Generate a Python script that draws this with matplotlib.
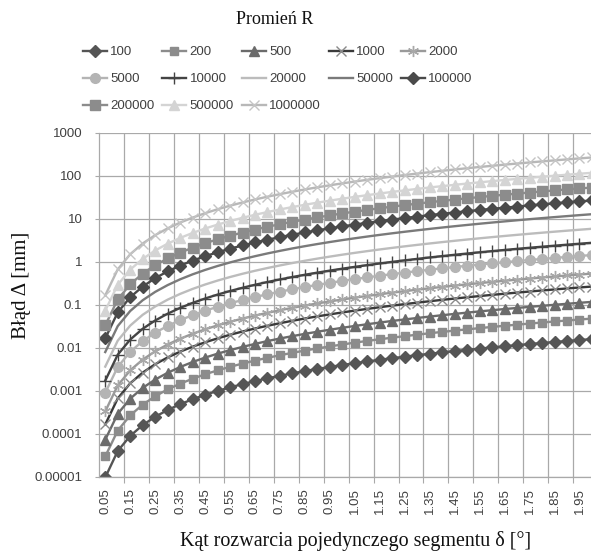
import matplotlib
matplotlib.use("Agg")
import matplotlib.pyplot as plt
from matplotlib.ticker import FixedLocator, NullLocator, FixedFormatter

# ---------------- data ----------------
delta = ["0.05", "0.10", "0.15", "0.20", "0.25", "0.30", "0.35", "0.40", "0.45", "0.50",
         "0.55", "0.60", "0.65", "0.70", "0.75", "0.80", "0.85", "0.90", "0.95", "1.00",
         "1.05", "1.10", "1.15", "1.20", "1.25", "1.30", "1.35", "1.40", "1.45", "1.50",
         "1.55", "1.60", "1.65", "1.70", "1.75", "1.80", "1.85", "1.90", "1.95", "2.00"]

radii = ["100", "200", "500", "1000", "2000", "5000", "10000", "20000", "50000",
         "100000", "200000", "500000", "1000000"]

r100 = [9.6e-6, 3.95e-5, 8.88e-5, 1.58e-4, 2.47e-4, 3.55e-4, 4.83e-4, 6.31e-4, 7.99e-4, 9.86e-4,
        1.19e-3, 1.42e-3, 1.67e-3, 1.93e-3, 2.22e-3, 2.52e-3, 2.85e-3, 3.20e-3, 3.56e-3, 3.95e-3,
        4.35e-3, 4.77e-3, 5.22e-3, 5.68e-3, 6.16e-3, 6.67e-3, 7.19e-3, 7.73e-3, 8.29e-3, 8.88e-3,
        9.48e-3, 0.0101, 0.0107, 0.0114, 0.0121, 0.0128, 0.0135, 0.0142, 0.0150, 0.0158]
r200 = [2.96e-5, 1.18e-4, 2.66e-4, 4.73e-4, 7.40e-4, 1.07e-3, 1.45e-3, 1.89e-3, 2.40e-3, 2.96e-3,
        3.58e-3, 4.26e-3, 5.00e-3, 5.80e-3, 6.66e-3, 7.57e-3, 8.55e-3, 9.59e-3, 0.0107, 0.0118,
        0.0131, 0.0143, 0.0157, 0.0170, 0.0185, 0.0200, 0.0216, 0.0232, 0.0249, 0.0266,
        0.0284, 0.0303, 0.0322, 0.0342, 0.0362, 0.0383, 0.0405, 0.0427, 0.0450, 0.0473]
r500 = [7.23e-5, 2.89e-4, 6.51e-4, 1.16e-3, 1.81e-3, 2.60e-3, 3.54e-3, 4.63e-3, 5.86e-3, 7.23e-3,
        8.75e-3, 0.0104, 0.0122, 0.0142, 0.0163, 0.0185, 0.0209, 0.0234, 0.0261, 0.0289,
        0.0319, 0.0350, 0.0383, 0.0417, 0.0452, 0.0489, 0.0527, 0.0567, 0.0608, 0.0651,
        0.0695, 0.0741, 0.0788, 0.0836, 0.0886, 0.0937, 0.0990, 0.1044, 0.1100, 0.1157]
r1000 = [1.64e-4, 6.58e-4, 1.48e-3, 2.63e-3, 4.11e-3, 5.92e-3, 8.05e-3, 0.0105, 0.0133, 0.0164,
         0.0199, 0.0237, 0.0278, 0.0322, 0.0370, 0.0421, 0.0475, 0.0533, 0.0593, 0.0658,
         0.0725, 0.0796, 0.0870, 0.0947, 0.1027, 0.1111, 0.1198, 0.1289, 0.1382, 0.1479,
         0.1580, 0.1683, 0.1790, 0.1900, 0.2014, 0.2130, 0.2250, 0.2373, 0.2500, 0.2630]
r2000 = [3.29e-4, 1.32e-3, 2.96e-3, 5.26e-3, 8.22e-3, 0.0118, 0.0161, 0.0210, 0.0266, 0.0329,
         0.0398, 0.0473, 0.0556, 0.0644, 0.0740, 0.0842, 0.0950, 0.1065, 0.1187, 0.1315,
         0.1450, 0.1591, 0.1739, 0.1894, 0.2055, 0.2222, 0.2397, 0.2578, 0.2765, 0.2959,
         0.3159, 0.3366, 0.3580, 0.3800, 0.4027, 0.4261, 0.4501, 0.4747, 0.5000, 0.5260]
r5000 = [8.88e-4, 3.55e-3, 7.99e-3, 0.0142, 0.0222, 0.0320, 0.0435, 0.0568, 0.0719, 0.0888,
         0.1074, 0.1278, 0.1500, 0.1740, 0.1997, 0.2272, 0.2565, 0.2876, 0.3204, 0.3551,
         0.3914, 0.4296, 0.4695, 0.5113, 0.5547, 0.5999, 0.6471, 0.6959, 0.7464, 0.7988,
         0.8529, 0.9088, 0.9666, 1.026, 1.087, 1.150, 1.215, 1.282, 1.350, 1.420]
r10000 = [1.71e-3, 6.84e-3, 0.0154, 0.0274, 0.0427, 0.0615, 0.0838, 0.1094, 0.1385, 0.1710,
          0.2068, 0.2461, 0.2889, 0.3351, 0.3845, 0.4376, 0.4940, 0.5538, 0.6170, 0.6838,
          0.7537, 0.8273, 0.9043, 0.9846, 1.068, 1.155, 1.246, 1.340, 1.438, 1.538,
          1.643, 1.750, 1.862, 1.976, 2.094, 2.216, 2.340, 2.468, 2.600, 2.735]
r20000 = [3.62e-3, 0.0145, 0.0325, 0.0579, 0.0904, 0.1302, 0.1772, 0.2314, 0.2929, 0.3616,
          0.4375, 0.5207, 0.6111, 0.7090, 0.8135, 0.9257, 1.045, 1.172, 1.305, 1.447,
          1.595, 1.750, 1.913, 2.083, 2.260, 2.444, 2.636, 2.835, 3.041, 3.254,
          3.475, 3.703, 3.938, 4.180, 4.430, 4.687, 4.951, 5.222, 5.500, 5.786]
r50000 = [7.89e-3, 0.0316, 0.0710, 0.1262, 0.1973, 0.2840, 0.3866, 0.5050, 0.6390, 0.7890,
          0.9546, 1.136, 1.333, 1.547, 1.775, 2.020, 2.280, 2.556, 2.848, 3.156,
          3.479, 3.818, 4.174, 4.544, 4.931, 5.333, 5.752, 6.186, 6.635, 7.100,
          7.582, 8.078, 8.592, 9.120, 9.665, 10.23, 10.80, 11.39, 12.00, 12.62]
r100000 = [0.0164, 0.0658, 0.148, 0.263, 0.411, 0.592, 0.805, 1.052, 1.331, 1.644,
           1.989, 2.367, 2.778, 3.222, 3.698, 4.208, 4.750, 5.325, 5.933, 6.575,
           7.249, 7.955, 8.695, 9.467, 10.27, 11.11, 11.98, 12.89, 13.82, 14.79,
           15.80, 16.83, 17.90, 19.00, 20.14, 21.30, 22.50, 23.73, 25.00, 26.30]
r200000 = [0.0329, 0.132, 0.296, 0.526, 0.822, 1.183, 1.611, 2.104, 2.663, 3.288,
           3.978, 4.734, 5.556, 6.445, 7.395, 8.415, 9.500, 10.65, 11.87, 13.15,
           14.50, 15.91, 17.39, 18.94, 20.55, 22.22, 23.97, 25.78, 27.65, 29.59,
           31.59, 33.66, 35.80, 38.00, 40.27, 42.61, 45.01, 47.47, 50.00, 52.60]
r500000 = [0.0723, 0.289, 0.651, 1.157, 1.808, 2.604, 3.544, 4.629, 5.858, 7.233,
           8.751, 10.41, 12.22, 14.18, 16.27, 18.51, 20.90, 23.43, 26.10, 28.93,
           31.89, 35.00, 38.26, 41.66, 45.20, 48.88, 52.72, 56.71, 60.82, 65.09,
           69.50, 74.05, 78.76, 83.60, 88.59, 93.73, 99.01, 104.4, 110.0, 115.7]
r1000000 = [0.164, 0.658, 1.48, 2.63, 4.11, 5.92, 8.05, 10.52, 13.31, 16.44,
            19.89, 23.67, 27.78, 32.22, 36.98, 42.08, 47.50, 53.25, 59.33, 65.75,
            72.49, 79.55, 86.95, 94.67, 102.7, 111.1, 119.8, 128.9, 138.2, 147.9,
            158.0, 168.3, 179.0, 190.0, 201.4, 213.0, 225.0, 237.3, 250.0, 263.0]

y_ticks = [1e-5, 1e-4, 1e-3, 1e-2, 1e-1, 1, 10, 100, 1000]
y_tick_labels = ["0.00001", "0.0001", "0.001", "0.01", "0.1", "1", "10", "100", "1000"]

series = [r100, r200, r500, r1000, r2000, r5000, r10000, r20000, r50000,
          r100000, r200000, r500000, r1000000]

# style per series: (line colour, marker, marker face, marker edge, marker size)
styles = [
    ("#555555", "D", "#555555", "#555555", 6.3),
    ("#8c8c8c", "s", "#8c8c8c", "#8c8c8c", 6.3),
    ("#6b6b6b", "^", "#6b6b6b", "#6b6b6b", 7.3),
    ("#3a3a3a", "x", "none", "#8a8a8a", 7.0),
    ("#9a9a9a", (6, 2, 0), "none", "#a8a8a8", 8.0),
    ("#b4b4b4", "o", "#b4b4b4", "#b4b4b4", 7.0),
    ("#444444", "+", "none", "#444444", 9.0),
    ("#bcbcbc", None, None, None, 0),
    ("#7a7a7a", None, None, None, 0),
    ("#4a4a4a", "D", "#4a4a4a", "#4a4a4a", 6.3),
    ("#8c8c8c", "s", "#8c8c8c", "#8c8c8c", 6.8),
    ("#d4d4d4", "^", "#d4d4d4", "#d4d4d4", 7.5),
    ("#b8b8b8", "x", "none", "#c4c4c4", 7.0),
]

# ---------------- figure ----------------
W, H = 591, 554
fig = plt.figure(figsize=(W / 100, H / 100), dpi=100)
fig.patch.set_facecolor("white")

ax_left, ax_right, ax_top, ax_bottom = 99, 598.2, 132.5, 476.7
ax = fig.add_axes([ax_left / W, 1 - ax_bottom / H,
                   (ax_right - ax_left) / W, (ax_bottom - ax_top) / H])

xs = list(range(len(delta)))
handles = []
for vals, lab, st in zip(series, radii, styles):
    lc, mk, mfc, mec, ms = st
    kw = dict(color=lc, lw=1.7, label=lab, solid_joinstyle="round")
    if mk is not None:
        kw.update(marker=mk, markerfacecolor=mfc, markeredgecolor=mec,
                  markersize=ms, markeredgewidth=1.0)
    h, = ax.plot(xs, vals, **kw)
    handles.append(h)

ax.set_yscale("log")
ax.set_ylim(1e-5, 1000)
ax.set_xlim(-0.5, len(delta) - 0.5)

grid_c = "#a9a9a9"
ax.yaxis.set_major_locator(FixedLocator(y_ticks))
ax.yaxis.set_major_formatter(FixedFormatter(y_tick_labels))
ax.yaxis.set_minor_locator(NullLocator())

boundaries = [i + 1.5 for i in range(0, len(delta), 2)]
label_pos = list(range(0, len(delta), 2))
ax.xaxis.set_major_locator(FixedLocator(boundaries))
ax.xaxis.set_major_formatter(FixedFormatter([""] * len(boundaries)))
ax.xaxis.set_minor_locator(FixedLocator(label_pos))
ax.xaxis.set_minor_formatter(FixedFormatter([delta[i] for i in label_pos]))

ax.tick_params(axis="x", which="major", length=4, width=0.8, color=grid_c, direction="out")
ax.tick_params(axis="x", which="minor", length=0, pad=8, labelsize=9.5,
               labelcolor="#404040", labelrotation=90)
ax.tick_params(axis="y", which="major", length=3, width=0.8, color=grid_c,
               direction="out", pad=9, labelsize=9.5, labelcolor="#404040")
for lbl in ax.get_xticklabels(minor=True) + ax.get_yticklabels():
    lbl.set_fontfamily("Liberation Sans")

ax.grid(True, which="major", axis="both", color=grid_c, lw=0.9)
ax.set_axisbelow(True)
for s in ["top", "right"]:
    ax.spines[s].set_visible(False)
for s in ["left", "bottom"]:
    ax.spines[s].set_color(grid_c)
    ax.spines[s].set_linewidth(0.9)

# axis titles
fig.text(356 / W, 1 - 541 / H, "Kąt rozwarcia pojedynczego segmentu δ [°]",
         family="Liberation Serif", fontsize=14.4, ha="center", va="center", color="#111111")
fig.text(22 / W, 1 - 285 / H, "Błąd Δ [mm]", family="Liberation Serif", fontsize=15,
         rotation=90, ha="center", va="center", color="#111111")

# legend (Excel-style row-wise order in 5 columns)
order = [0, 5, 10, 1, 6, 11, 2, 7, 12, 3, 8, 4, 9]
fig.text(274.5 / W, 1 - 20 / H, "Promień R", family="Liberation Serif", fontsize=13,
         ha="center", va="center", color="#111111")
leg = fig.legend([handles[i] for i in order], [radii[i] for i in order],
                 loc="upper left", bbox_to_anchor=(83 / W, 1 - 46 / H),
                 ncol=5, frameon=False, borderpad=0, borderaxespad=0,
                 handlelength=1.82, handletextpad=0.25, columnspacing=0.6,
                 labelspacing=1.12, numpoints=1,
                 prop=dict(family="Liberation Sans", size=9.5))
for t in leg.get_texts():
    t.set_color("#404040")

fig.savefig("out.png", dpi=100, facecolor="white")
